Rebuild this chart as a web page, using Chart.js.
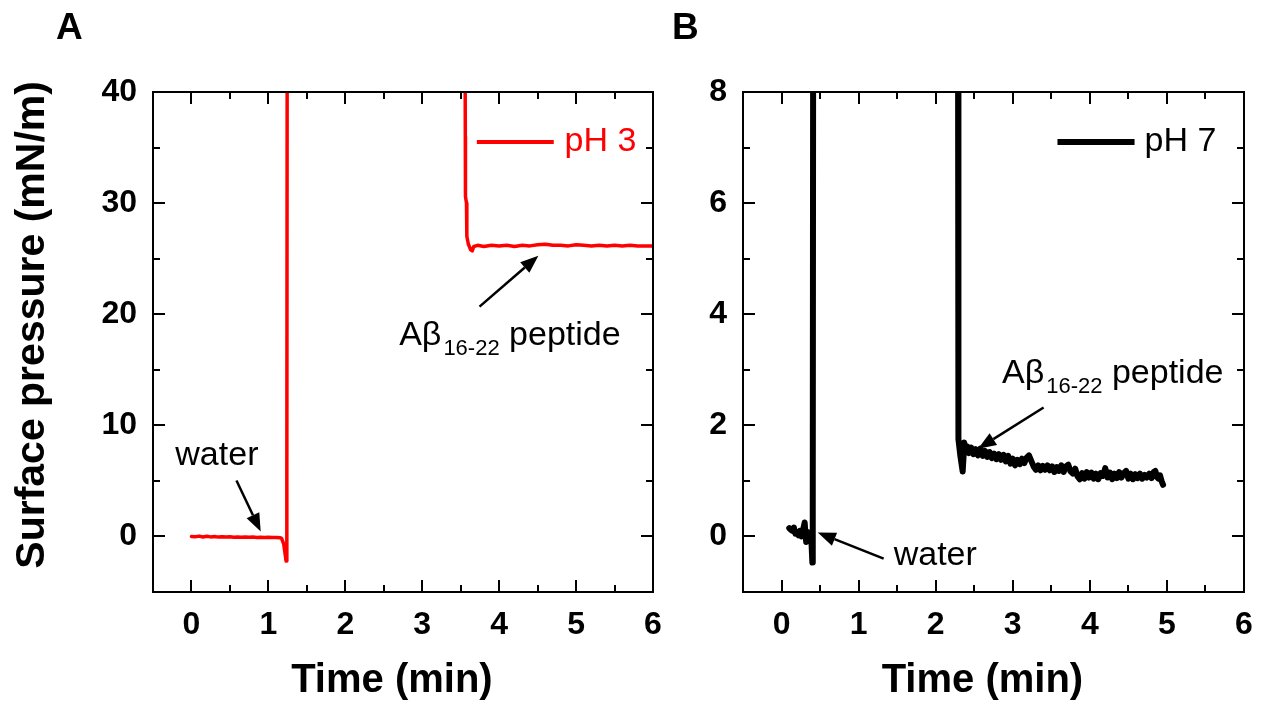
<!DOCTYPE html>
<html><head><meta charset="utf-8">
<script src="https://cdn.jsdelivr.net/npm/chart.js@4.4.1/dist/chart.umd.min.js"></script>
<style>
html,body{margin:0;padding:0;background:#fff;}
#wrap{position:relative;width:1265px;height:706px;overflow:hidden;background:#fff}
canvas{position:absolute;top:0}
#cA{left:0}
#cB{left:665px}
</style></head><body>
<div id="wrap"><canvas id="cA" width="665" height="706"></canvas><canvas id="cB" width="600" height="706"></canvas></div>
<script>
// ---------- data ----------
const xTickValues = [0, 1, 2, 3, 4, 5, 6];
const yTickValuesA = [0, 10, 20, 30, 40];
const yTickValuesB = [0, 2, 4, 6, 8];

// Panel A : pH 3
const timeA = [0, 0.05, 0.1, 0.15, 0.2, 0.25, 0.3, 0.35, 0.4, 0.45, 0.5, 0.55, 0.6, 0.65, 0.7, 0.75, 0.8, 0.85, 0.9, 0.95, 1.0, 1.05, 1.1, 1.15, 1.17, 1.2, 1.23, 1.24, 1.245,
  2.4,
  3.555, 3.56, 3.562, 3.575, 3.58, 3.6, 3.63, 3.65, 3.67, 3.72, 3.8, 3.9, 4.0, 4.1, 4.2, 4.3, 4.4, 4.5, 4.6, 4.7, 4.8, 4.9, 5.0, 5.1, 5.2, 5.3, 5.4, 5.5, 5.6, 5.7, 5.8, 5.9, 6.0];
const pressureA = [0.0, -0.02, 0.03, -0.05, 0.02, -0.04, 0.0, -0.06, -0.02, -0.05, -0.03, -0.07, -0.04, -0.08, -0.05, -0.07, -0.06, -0.1, -0.07, -0.09, -0.08, -0.1, -0.09, -0.12, -0.15, -0.7, -2.2, 5, 50,
  null,
  50, 36, 30.6, 30.0, 27.0, 26.3, 25.8, 25.7, 26.1, 26.2, 26.1, 26.2, 26.15, 26.2, 26.1, 26.2, 26.15, 26.25, 26.3, 26.2, 26.2, 26.15, 26.25, 26.2, 26.15, 26.2, 26.15, 26.2, 26.15, 26.2, 26.15, 26.15, 26.15];

// Panel B : pH 7
const timeB = [0.10, 0.12, 0.14, 0.16, 0.18, 0.20, 0.22, 0.24, 0.26, 0.28, 0.30, 0.31, 0.32, 0.34, 0.36, 0.38, 0.39, 0.40, 0.405, 0.41,
  1.3,
  2.29, 2.29, 2.30, 2.32, 2.35, 2.36, 2.37, 2.39, 2.41,
  2.43, 2.46, 2.49, 2.52, 2.55, 2.58, 2.61, 2.64, 2.67, 2.70, 2.73, 2.76, 2.79, 2.82, 2.85, 2.88, 2.91, 2.94, 2.97, 3.00,
  3.03, 3.06, 3.09, 3.12, 3.15, 3.18, 3.21, 3.24, 3.27, 3.30, 3.33, 3.36, 3.39, 3.42, 3.45, 3.48, 3.51, 3.54, 3.57, 3.60,
  3.63, 3.66, 3.69, 3.72, 3.75, 3.78, 3.81, 3.84, 3.87, 3.90, 3.93, 3.96, 3.99, 4.02, 4.05, 4.08, 4.11, 4.14, 4.17, 4.20,
  4.23, 4.26, 4.29, 4.32, 4.35, 4.38, 4.41, 4.44, 4.47, 4.50, 4.53, 4.56, 4.59, 4.62, 4.65, 4.68, 4.71, 4.74, 4.77, 4.80,
  4.83, 4.85, 4.87, 4.89, 4.91, 4.93, 4.95];
const pressureB = [0.15, 0.12, 0.10, 0.16, 0.05, 0.08, 0.02, 0.10, 0.0, 0.12, 0.25, 0.05, -0.1, 0.08, 0.0, 0.05, -0.15, -0.47, 0.5, 9,
  null,
  9, 2.2, 1.75, 1.45, 1.17, 1.4, 1.69, 1.55, 1.62,
  1.50, 1.60, 1.48, 1.57, 1.46, 1.58, 1.45, 1.54, 1.43, 1.52, 1.41, 1.49, 1.39, 1.48, 1.38, 1.47, 1.35, 1.45, 1.31, 1.40,
  1.28, 1.38, 1.30, 1.40, 1.32, 1.42, 1.46, 1.36, 1.26, 1.20, 1.28, 1.19, 1.27, 1.20, 1.28, 1.19, 1.26, 1.16, 1.25, 1.18,
  1.28, 1.16, 1.26, 1.29, 1.17, 1.13, 1.22, 1.08, 1.03, 1.14, 1.04, 1.16, 1.06, 1.15, 1.04, 1.13, 1.03, 1.14, 1.09, 1.23,
  1.06, 1.15, 1.03, 1.13, 1.05, 1.16, 1.06, 1.14, 1.18, 1.04, 1.13, 1.03, 1.12, 1.05, 1.13, 1.04, 1.11, 1.06, 1.13, 1.05,
  1.16, 1.18, 1.07, 1.04, 1.10, 1.00, 0.93];

// ---------- drawing ----------
const FONT = '"Liberation Sans", Arial, Helvetica, sans-serif';

function drawArrow(ctx, x1, y1, x2, y2) {
  const ang = Math.atan2(y2 - y1, x2 - x1), L = 18, W = 7;
  const bx = x2 - L * Math.cos(ang), by = y2 - L * Math.sin(ang);
  ctx.beginPath(); ctx.moveTo(x1, y1); ctx.lineTo(bx, by);
  ctx.lineWidth = 2.5; ctx.strokeStyle = '#000'; ctx.lineCap = 'butt'; ctx.stroke();
  ctx.beginPath(); ctx.moveTo(x2, y2);
  ctx.lineTo(bx - W * Math.sin(ang), by + W * Math.cos(ang));
  ctx.lineTo(bx + W * Math.sin(ang), by - W * Math.cos(ang));
  ctx.closePath(); ctx.fillStyle = '#000'; ctx.fill();
}

function makeDecor(cfg) {
  return {
    id: 'decor',
    afterDraw(chart) {
      const { ctx, chartArea: a, scales: { x, y } } = chart;
      ctx.save();
      // frame
      ctx.strokeStyle = '#000'; ctx.lineWidth = 2; ctx.lineCap = 'butt';
      ctx.strokeRect(a.left, a.top, a.right - a.left, a.bottom - a.top);
      const majX = xTickValues, majY = cfg.yMajor;
      const isMaj = (arr, v) => arr.some(m => Math.abs(m - v) < 1e-9);
      ctx.beginPath();
      for (let v = x.min; v <= x.max + 1e-9; v += cfg.xMinor) {
        const len = isMaj(majX, v) ? 12 : 7;
        const px = Math.round(x.getPixelForValue(v));
        ctx.moveTo(px, a.bottom); ctx.lineTo(px, a.bottom - len);
        ctx.moveTo(px, a.top); ctx.lineTo(px, a.top + len);
      }
      for (let v = y.min; v <= y.max + 1e-9; v += cfg.yMinor) {
        const len = isMaj(majY, v) ? 12 : 7;
        const py = Math.round(y.getPixelForValue(v));
        ctx.moveTo(a.left, py); ctx.lineTo(a.left + len, py);
        ctx.moveTo(a.right, py); ctx.lineTo(a.right - len, py);
      }
      ctx.stroke();

      // panel letter
      ctx.fillStyle = '#000';
      ctx.font = 'bold 37px ' + FONT;
      ctx.textAlign = 'left'; ctx.textBaseline = 'alphabetic';
      ctx.fillText(cfg.letter.text, cfg.letter.px, cfg.letter.py);

      // legend
      const lg = cfg.legend;
      ctx.beginPath();
      ctx.moveTo(x.getPixelForValue(lg.x1), y.getPixelForValue(lg.y));
      ctx.lineTo(x.getPixelForValue(lg.x2), y.getPixelForValue(lg.y));
      ctx.strokeStyle = cfg.color; ctx.lineWidth = cfg.lw; ctx.stroke();
      ctx.font = '34px ' + FONT; ctx.fillStyle = lg.textColor; ctx.textBaseline = 'middle';
      ctx.fillText(lg.text, x.getPixelForValue(lg.tx), y.getPixelForValue(lg.y));

      // water label + arrow
      ctx.fillStyle = '#000'; ctx.textBaseline = 'alphabetic';
      const w = cfg.water;
      ctx.fillText('water', x.getPixelForValue(w.tx), y.getPixelForValue(w.ty));
      drawArrow(ctx, x.getPixelForValue(w.ax1), y.getPixelForValue(w.ay1), x.getPixelForValue(w.ax2), y.getPixelForValue(w.ay2));

      // peptide label + arrow
      const p = cfg.pep;
      let px = x.getPixelForValue(p.tx); const py = y.getPixelForValue(p.ty);
      ctx.font = '34px ' + FONT;
      ctx.fillText('A\u03B2', px, py); px += ctx.measureText('A\u03B2').width + 2;
      ctx.font = '22px ' + FONT;
      ctx.fillText('16-22', px, py + 10); px += ctx.measureText('16-22').width;
      ctx.font = '34px ' + FONT;
      ctx.fillText(' peptide', px, py);
      drawArrow(ctx, x.getPixelForValue(p.ax1), y.getPixelForValue(p.ay1), x.getPixelForValue(p.ax2), y.getPixelForValue(p.ay2));
      ctx.restore();
    }
  };
}

function zeroPad(s) { s.paddingLeft = 0; s.paddingRight = 0; s.paddingTop = 0; s.paddingBottom = 0; }

function makeChart(id, times, values, o) {
  return new Chart(document.getElementById(id), {
    type: 'line',
    data: { datasets: [{
      data: times.map((t, i) => ({ x: t, y: values[i] })),
      borderColor: o.color, borderWidth: o.lw, pointRadius: 0, pointHoverRadius: 0,
      tension: 0, spanGaps: false, borderJoinStyle: 'round', borderCapStyle: 'round', fill: false
    }] },
    options: {
      responsive: false, animation: false, devicePixelRatio: 1, events: [],
      layout: { padding: { top: 92, right: o.padRight, bottom: 0, left: 0 } },
      plugins: { legend: { display: false }, tooltip: { enabled: false } },
      scales: {
        x: {
          type: 'linear', min: -0.5, max: 6,
          grid: { display: false, drawTicks: false }, border: { display: false },
          afterBuildTicks: s => { s.ticks = xTickValues.map(v => ({ value: v })); },
          afterFit: s => { s.height = 114; zeroPad(s); },
          ticks: { padding: 14, maxRotation: 0, autoSkip: false, color: '#000', font: { family: FONT, size: 32, weight: 'bold' } },
          title: { display: true, text: 'Time (min)\u00A0\u00A0', color: '#000', font: { family: FONT, size: 40, weight: 'bold' }, padding: { top: 0, bottom: 1 } }
        },
        y: {
          type: 'linear', min: o.yMin, max: o.yMax,
          grid: { display: false, drawTicks: false }, border: { display: false },
          afterBuildTicks: s => { s.ticks = o.yTicks.map(v => ({ value: v })); },
          afterFit: s => { s.width = o.yWidth; zeroPad(s); },
          ticks: { padding: 16, autoSkip: false, color: '#000', font: { family: FONT, size: 32, weight: 'bold' } },
          title: o.yTitle ? { display: true, text: o.yTitle, color: '#000', font: { family: FONT, size: 41, weight: 'bold' }, padding: { top: 8, bottom: 0 } } : { display: false }
        }
      }
    },
    plugins: [makeDecor(o.decor)]
  });
}

makeChart('cA', timeA, pressureA, {
  color: '#ff0000', lw: 3.5, padRight: 12, yMin: -5, yMax: 40, yTicks: yTickValuesA, yWidth: 153,
  yTitle: '\u00A0\u00A0\u00A0Surface pressure (mN/m)',
  decor: {
    yMajor: yTickValuesA, xMinor: 0.5, yMinor: 5, color: '#ff0000', lw: 4,
    letter: { text: 'A', px: 56, py: 39 },
    legend: { x1: 3.71, x2: 4.71, y: 35.5, tx: 4.85, text: 'pH 3', textColor: '#ff0000' },
    water: { tx: -0.21, ty: 6.47, ax1: 0.585, ay1: 5.04, ax2: 0.90, ay2: 0.45 },
    pep: { tx: 2.70, ty: 17.27, ax1: 3.745, ay1: 20.68, ax2: 4.51, ay2: 25.27 }
  }
});

makeChart('cB', timeB, pressureB, {
  color: '#000000', lw: 6, padRight: 21, yMin: -1, yMax: 8, yTicks: yTickValuesB, yWidth: 78,
  yTitle: null,
  decor: {
    yMajor: yTickValuesB, xMinor: 0.5, yMinor: 1, color: '#000000', lw: 6,
    letter: { text: 'B', px: 7, py: 39 },
    legend: { x1: 3.58, x2: 4.58, y: 7.1, tx: 4.71, text: 'pH 7', textColor: '#000' },
    water: { tx: 1.455, ty: -0.52, ax1: 1.325, ay1: -0.40, ax2: 0.47, ay2: 0.07 },
    pep: { tx: 2.86, ty: 2.77, ax1: 3.40, ay1: 2.32, ax2: 2.55, ay2: 1.58 }
  }
});
</script>
</body></html>
